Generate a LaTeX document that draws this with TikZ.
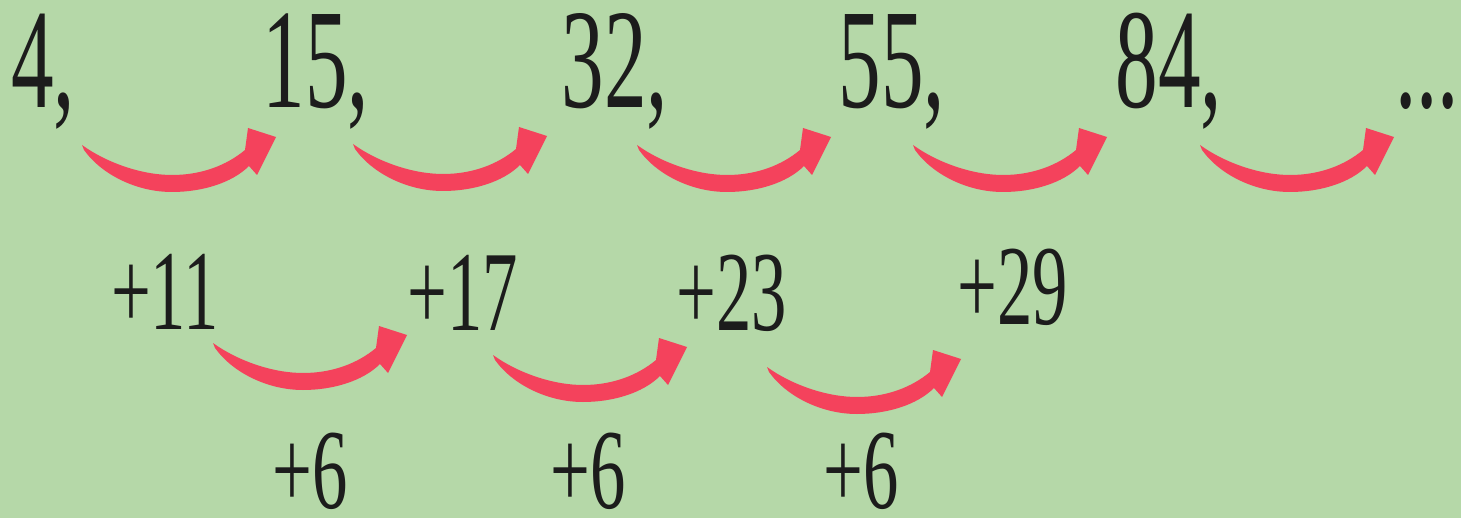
\documentclass[tikz,border=0pt]{standalone}
\usepackage{fontspec}
\setmainfont{Liberation Serif}
\definecolor{bggreen}{RGB}{181,216,168}
\definecolor{arrowred}{RGB}{244,66,92}
\definecolor{ink}{RGB}{28,28,28}
\newcommand{\cnd}[1]{\scalebox{0.6}[1]{#1}}
\newcommand{\cndm}[1]{\scalebox{0.62}[1]{#1}}
\newcommand{\redarrow}[1]{%
  \fill[arrowred,shift={(#1)}] (0,0) .. controls (25,18) and (60,30) .. (90,30)
    .. controls (120,30) and (145,20) .. (163,5) -- (166,-17) -- (194,-8)
    -- (175,30) -- (167,21) .. controls (150,38) and (120,47) .. (90,47)
    .. controls (55,47) and (20,30) .. (2,5) -- cycle;}
\begin{document}
\begin{tikzpicture}[x=0.5pt,y=-0.5pt,
  big/.style={anchor=base,inner sep=0pt,text=ink,font=\fontsize{71pt}{71pt}\selectfont},
  mid/.style={anchor=base,inner sep=0pt,text=ink,font=\fontsize{57pt}{57pt}\selectfont}]
\fill[bggreen] (0,0) rectangle (1461,518);
\useasboundingbox (0,0) rectangle (1461,518);
% top row
\node[big] (n1) at (43,108) {\cnd{4,}};
\node[big] (n2) at (316,108) {\cnd{15,}};
\node[big] (n3) at (615,108) {\cnd{32,}};
\node[big] (n4) at (892,108) {\cnd{55,}};
\node[big] (n5) at (1169,108) {\cnd{84,}};
\node[big] (n6) at (1427,108) {\cnd{...}};
% second row
\node[mid] (d1) at (165,329) {\cndm{+11}};
\node[mid] (d2) at (463,330) {\cndm{+17}};
\node[mid] (d3) at (732,330) {\cndm{+23}};
\node[mid] (d4) at (1013,324) {\cndm{+29}};
% third row
\node[mid] (e1) at (310,508) {\cndm{+6}};
\node[mid] (e2) at (588,508) {\cndm{+6}};
\node[mid] (e3) at (861,508) {\cndm{+6}};
% arrow tails
\coordinate (a1) at (82,145);
\coordinate (a2) at (353,144);
\coordinate (a3) at (637,145);
\coordinate (a4) at (913,145);
\coordinate (a5) at (1200,145);
\coordinate (b1) at (213,343);
\coordinate (b2) at (493,355);
\coordinate (b3) at (767,367);
\redarrow{a1}\redarrow{a2}\redarrow{a3}\redarrow{a4}\redarrow{a5}
\redarrow{b1}\redarrow{b2}\redarrow{b3}
\end{tikzpicture}
\end{document}
